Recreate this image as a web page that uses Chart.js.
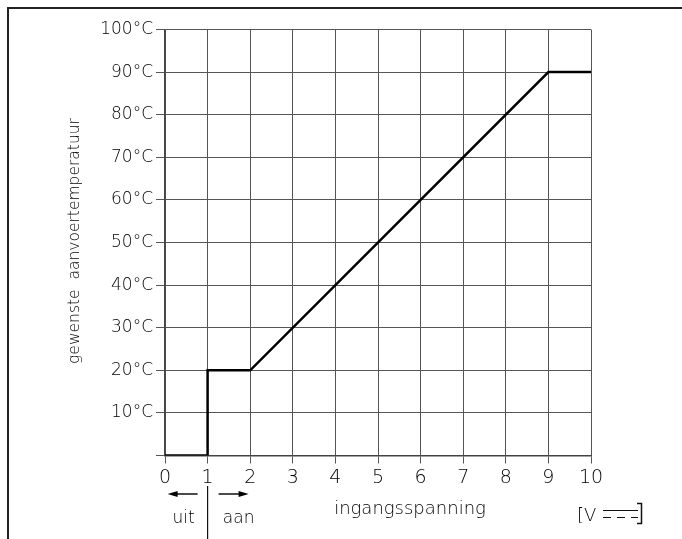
<!DOCTYPE html>
<html>
<head>
<meta charset="utf-8">
<script src="https://cdn.jsdelivr.net/npm/chart.js@4.4.0/dist/chart.umd.min.js"></script>
<style>
html,body{margin:0;padding:0;background:#fff;}
#wrap{position:absolute;left:0;top:0;width:682px;height:539px;}
</style>
</head>
<body>
<div id="wrap"><canvas id="c" width="682" height="539"></canvas></div>
<script>
// Data
const voltage = [0, 1, 1, 2, 9, 10];          // ingangsspanning [V]
const temperature = [0, 0, 20, 20, 90, 90];   // gewenste aanvoertemperatuur [°C]
const xTicks = [0,1,2,3,4,5,6,7,8,9,10];
const yTicks = [0,10,20,30,40,50,60,70,80,90,100];
const yTitle = 'gewenste  aanvoertemperatuur';
const xTitle = 'ingangsspanning';
const offLabel = 'uit';
const onLabel = 'aan';

const FONT = '"DejaVu Sans", sans-serif';

const annotations = {
  id: 'annotations',
  afterDraw(chart) {
    const ctx = chart.ctx;
    const xs = chart.scales.x, ys = chart.scales.y;
    ctx.save();
    // frame (top + left)
    ctx.strokeStyle = '#222';
    ctx.lineWidth = 2;
    ctx.beginPath();
    ctx.moveTo(8, 539); ctx.lineTo(8, 8); ctx.lineTo(682, 8);
    ctx.stroke();

    ctx.fillStyle = '#000';
    ctx.strokeStyle = '#111';
    // y title
    ctx.save();
    ctx.translate(75, 241);
    ctx.rotate(-Math.PI / 2);
    ctx.font = '200 15.5px ' + FONT;
    ctx.textAlign = 'center';
    ctx.textBaseline = 'middle';
    ctx.fillText(yTitle, 0, 0);
    ctx.restore();

    // x title
    ctx.font = '200 18px ' + FONT;
    ctx.textAlign = 'center';
    ctx.textBaseline = 'alphabetic';
    ctx.fillText(xTitle, 410, 514);

    // divider at x = 1
    const xd = xs.getPixelForValue(1);
    ctx.lineWidth = 1.2;
    ctx.beginPath();
    ctx.moveTo(xd, 486); ctx.lineTo(xd, 539);
    ctx.stroke();

    // arrows
    const ay = 494;
    ctx.lineWidth = 1.5;
    ctx.beginPath();
    ctx.moveTo(xd - 10, ay); ctx.lineTo(xd - 33, ay);
    ctx.moveTo(xd + 11, ay); ctx.lineTo(xd + 34, ay);
    ctx.stroke();
    ctx.beginPath();
    ctx.moveTo(xd - 40, ay); ctx.lineTo(xd - 30, ay - 3); ctx.lineTo(xd - 30, ay + 3); ctx.closePath();
    ctx.moveTo(xd + 41, ay); ctx.lineTo(xd + 31, ay - 3); ctx.lineTo(xd + 31, ay + 3); ctx.closePath();
    ctx.fill();

    // uit / aan
    ctx.font = '200 17px ' + FONT;
    ctx.textAlign = 'center';
    ctx.fillText(offLabel, xd - 24, 523);
    ctx.fillText(onLabel, xd + 31, 523);

    // unit [V ⎓]
    ctx.textAlign = 'left';
    ctx.font = '200 18px ' + FONT;
    ctx.fillText('[V', 577, 521);
    ctx.lineWidth = 1.2;
    ctx.beginPath();
    ctx.moveTo(603, 510.5); ctx.lineTo(638, 510.5);
    ctx.moveTo(603, 517.5); ctx.lineTo(611, 517.5);
    ctx.moveTo(617, 517.5); ctx.lineTo(625, 517.5);
    ctx.moveTo(631, 517.5); ctx.lineTo(638, 517.5);
    ctx.stroke();
    ctx.lineWidth = 1.5;
    ctx.beginPath();
    ctx.moveTo(637, 503.5); ctx.lineTo(641.5, 503.5); ctx.lineTo(641.5, 523.5); ctx.lineTo(637, 523.5);
    ctx.stroke();
    ctx.restore();
  }
};

new Chart(document.getElementById('c'), {
  type: 'line',
  data: {
    datasets: [{
      data: voltage.map((v, i) => ({x: v, y: temperature[i]})),
      borderColor: '#000',
      borderWidth: 2.5,
      pointRadius: 0,
      tension: 0,
      fill: false
    }]
  },
  options: {
    responsive: false,
    animation: false,
    devicePixelRatio: 1,
    layout: { padding: { left: 0, right: 91, top: 29.5, bottom: 0 } },
    plugins: { legend: { display: false }, tooltip: { enabled: false } },
    scales: {
      x: {
        type: 'linear',
        min: 0, max: 10,
        afterBuildTicks: s => { s.ticks = xTicks.map(v => ({value: v})); },
        afterFit: s => { s.height = 83.5; },
        grid: { color: '#555', lineWidth: 1, tickLength: 8, drawTicks: true },
        border: { color: '#444', width: 1.5 },
        ticks: {
          color: '#000',
          padding: 3,
          font: { family: FONT, size: 19, weight: 200 },
          maxRotation: 0,
          callback: v => String(v)
        }
      },
      y: {
        type: 'linear',
        min: 0, max: 100,
        afterBuildTicks: s => { s.ticks = yTicks.map(v => ({value: v})); },
        afterFit: s => { s.width = 165; },
        grid: { color: '#555', lineWidth: 1, tickLength: 9, drawTicks: true },
        border: { color: '#444', width: 1.5 },
        ticks: {
          color: '#000',
          padding: 3,
          font: { family: FONT, size: 17, weight: 200 },
          callback: v => v === 0 ? '' : v + '°C'
        }
      }
    }
  },
  plugins: [annotations]
});
</script>
</body>
</html>
